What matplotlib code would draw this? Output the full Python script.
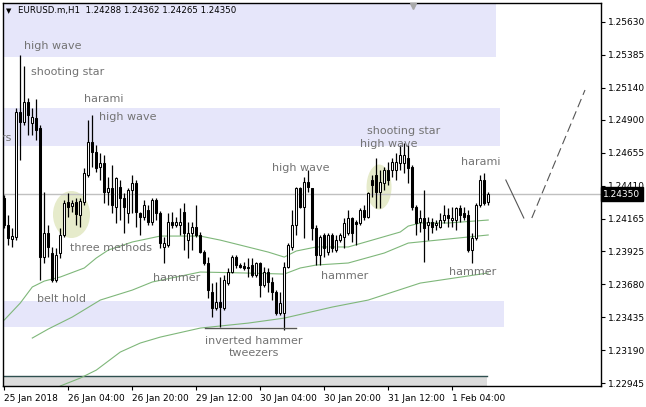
import matplotlib
matplotlib.use("Agg")
import matplotlib.pyplot as plt
from matplotlib.patches import Rectangle, Ellipse
import matplotlib.transforms as mtransforms

# ---------------- data (EURUSD H1 candles) ----------------
opens = [
    1.24320, 1.24120, 1.24016, 1.24031, 1.24959, 1.24885, 1.25033, 1.24877, 1.24914, 1.24840,
    1.23882, 1.24060, 1.23912, 1.23712, 1.23912, 1.24046, 1.24291, 1.24261, 1.24291, 1.24194,
    1.24291, 1.24491, 1.24736, 1.24662, 1.24550, 1.24580, 1.24365, 1.24395, 1.24253, 1.24402,
    1.24320, 1.24209, 1.24380, 1.24432, 1.24209, 1.24179, 1.24231, 1.24142, 1.24305, 1.24209,
    1.23957, 1.23971, 1.24142, 1.24120, 1.24120, 1.24216, 1.24008, 1.24060, 1.24105, 1.24046,
    1.23919, 1.23838, 1.23622, 1.23504, 1.23548, 1.23504, 1.23689, 1.23771, 1.23882, 1.23823,
    1.23815, 1.23808, 1.23823, 1.23749, 1.23838, 1.23674, 1.23771, 1.23697, 1.23622, 1.23467,
    1.23467, 1.23808, 1.23957, 1.24120, 1.24395, 1.24253, 1.24439, 1.24395, 1.24098, 1.23897,
    1.24046, 1.23919, 1.24046, 1.23934, 1.24008, 1.24031, 1.24060, 1.24172, 1.24142, 1.24135,
    1.24231, 1.24179, 1.24454, 1.24491, 1.24365, 1.24432, 1.24528, 1.24528, 1.24528, 1.24580,
    1.24580, 1.24617, 1.24550, 1.24253, 1.24142, 1.24172, 1.24120, 1.24142, 1.24120, 1.24105,
    1.24157, 1.24194, 1.24157, 1.24157, 1.24246, 1.24209, 1.24194, 1.23934, 1.24023, 1.24268,
    1.24454, 1.24288,
]
highs = [
    1.24343, 1.24194, 1.24098, 1.24989, 1.25382, 1.25300, 1.25063, 1.24989, 1.25055, 1.24862,
    1.24365, 1.24120, 1.23957, 1.23949, 1.24098, 1.24305, 1.24357, 1.24305, 1.24320, 1.24320,
    1.24543, 1.24899, 1.24937, 1.24714, 1.24654, 1.24640, 1.24476, 1.24565, 1.24476, 1.24454,
    1.24357, 1.24395, 1.24491, 1.24454, 1.24216, 1.24305, 1.24268, 1.24320, 1.24320, 1.24224,
    1.24031, 1.24209, 1.24216, 1.24179, 1.24246, 1.24283, 1.24142, 1.24142, 1.24268, 1.24068,
    1.23934, 1.23882, 1.23689, 1.23697, 1.23734, 1.23749, 1.23801, 1.23897, 1.23897, 1.23838,
    1.23845, 1.23875, 1.23875, 1.23845, 1.23845, 1.23808, 1.23801, 1.23734, 1.23637, 1.23622,
    1.23845, 1.23986, 1.24231, 1.24402, 1.24402, 1.24476, 1.24528, 1.24395, 1.24120, 1.24046,
    1.24060, 1.24060, 1.24060, 1.24046, 1.24060, 1.24172, 1.24231, 1.24179, 1.24157, 1.24246,
    1.24268, 1.24365, 1.24491, 1.24617, 1.24528, 1.24550, 1.24588, 1.24617, 1.24654, 1.24714,
    1.24729, 1.24714, 1.24565, 1.24268, 1.24231, 1.24380, 1.24179, 1.24172, 1.24157, 1.24209,
    1.24268, 1.24246, 1.24253, 1.24253, 1.24268, 1.24253, 1.24231, 1.24060, 1.24283, 1.24491,
    1.24506, 1.24362,
]
lows = [
    1.24098, 1.23971, 1.23957, 1.24008, 1.24602, 1.24862, 1.24788, 1.24788, 1.24751, 1.23712,
    1.23838, 1.23882, 1.23697, 1.23697, 1.23875, 1.24031, 1.24179, 1.24216, 1.24120, 1.24105,
    1.24268, 1.24476, 1.24550, 1.24513, 1.24454, 1.24283, 1.24268, 1.24209, 1.24135, 1.24157,
    1.24060, 1.24135, 1.24209, 1.24105, 1.24046, 1.24157, 1.24120, 1.24120, 1.24157, 1.23949,
    1.23838, 1.23957, 1.24098, 1.24105, 1.24046, 1.23934, 1.23875, 1.23934, 1.24031, 1.23912,
    1.23823, 1.23578, 1.23437, 1.23489, 1.23363, 1.23489, 1.23674, 1.23764, 1.23801, 1.23801,
    1.23786, 1.23734, 1.23734, 1.23734, 1.23585, 1.23660, 1.23622, 1.23563, 1.23452, 1.23452,
    1.23340, 1.23801, 1.23934, 1.24046, 1.24246, 1.24023, 1.24365, 1.24008, 1.23823, 1.23823,
    1.23882, 1.23897, 1.23919, 1.23919, 1.23994, 1.23949, 1.24046, 1.23994, 1.23971, 1.24120,
    1.24157, 1.24172, 1.24328, 1.24246, 1.24246, 1.24380, 1.24417, 1.24476, 1.24454, 1.24528,
    1.24506, 1.24432, 1.24231, 1.24046, 1.24068, 1.23845, 1.24008, 1.24060, 1.24083, 1.24098,
    1.24135, 1.24105, 1.24105, 1.24083, 1.24142, 1.24157, 1.23919, 1.23838, 1.24008, 1.24253,
    1.24268, 1.24265,
]
closes = [
    1.24120, 1.24023, 1.24038, 1.24959, 1.24885, 1.25033, 1.24937, 1.24922, 1.24825, 1.23882,
    1.24060, 1.23957, 1.23712, 1.23897, 1.24046, 1.24283, 1.24253, 1.24283, 1.24202, 1.24298,
    1.24506, 1.24736, 1.24662, 1.24543, 1.24580, 1.24365, 1.24395, 1.24268, 1.24469, 1.24320,
    1.24253, 1.24380, 1.24432, 1.24216, 1.24179, 1.24268, 1.24142, 1.24305, 1.24209, 1.23986,
    1.23986, 1.24142, 1.24120, 1.24142, 1.24142, 1.24060, 1.24060, 1.24105, 1.24046, 1.23919,
    1.23838, 1.23637, 1.23504, 1.23548, 1.23511, 1.23712, 1.23771, 1.23882, 1.23823, 1.23808,
    1.23801, 1.23801, 1.23749, 1.23838, 1.23674, 1.23771, 1.23697, 1.23622, 1.23467, 1.23541,
    1.23808, 1.23971, 1.24120, 1.24395, 1.24253, 1.24439, 1.24402, 1.24098, 1.23897, 1.24031,
    1.23949, 1.24046, 1.23949, 1.24008, 1.24046, 1.24135, 1.24172, 1.24060, 1.24127, 1.24231,
    1.24179, 1.24357, 1.24417, 1.24365, 1.24439, 1.24528, 1.24454, 1.24588, 1.24588, 1.24640,
    1.24640, 1.24543, 1.24253, 1.24135, 1.24172, 1.24098, 1.24142, 1.24105, 1.24135, 1.24157,
    1.24194, 1.24172, 1.24172, 1.24246, 1.24194, 1.24179, 1.23934, 1.24023, 1.24268, 1.24454,
    1.24283, 1.24350,
]

# moving averages (bar index, price)
ma1_idx = [0, 4, 7, 10, 14, 20, 23, 26, 32, 39, 49, 54, 59, 66, 70, 73, 78, 86, 92, 99, 101, 104, 111, 121]
ma1_val = [1.23415, 1.23541, 1.23660, 1.23704, 1.23734, 1.23801, 1.23875, 1.23934, 1.23994, 1.24038,
           1.24038, 1.24008, 1.23971, 1.23919, 1.23882, 1.23927, 1.23957, 1.23957, 1.24008, 1.24068,
           1.24112, 1.24135, 1.24135, 1.24157]
ma2_idx = [7, 11, 17, 24, 32, 37, 49, 60, 70, 74, 78, 86, 95, 101, 121]
ma2_val = [1.23281, 1.23348, 1.23437, 1.23563, 1.23637, 1.23697, 1.23771, 1.23764, 1.23756, 1.23801,
           1.23823, 1.23838, 1.23912, 1.23986, 1.24046]
ma3_idx = [14, 19, 23, 29, 34, 39, 49, 61, 70, 82, 91, 104, 121]
ma3_val = [1.22925, 1.22984, 1.23043, 1.23177, 1.23244, 1.23288, 1.23355, 1.23392, 1.23429, 1.23511,
           1.23563, 1.23689, 1.23764]

# zones (price ranges)
zone_low = [1.25367, 1.24706, 1.23363]
zone_high = [1.25900, 1.24989, 1.23556]
zone_end = [123.0, 124.0, 125.0]

ytick_vals = [1.25630, 1.25385, 1.25140, 1.24900, 1.24655, 1.24410,
              1.24165, 1.23925, 1.23680, 1.23435, 1.23190, 1.22945]
xtick_pos = [0, 16, 32, 48, 64, 80, 96, 112]
xtick_labels = ["25 Jan 2018", "26 Jan 04:00", "26 Jan 20:00", "29 Jan 12:00",
                "30 Jan 04:00", "30 Jan 20:00", "31 Jan 12:00", "1 Feb 04:00"]

labels = [
    ("high wave", 4.93, 1.25449), ("shooting star", 6.68, 1.25256),
    ("harami", 19.9, 1.25055), ("high wave", 23.7, 1.24922),
    ("three methods", 16.4, 1.23949), ("belt hold", 8.2, 1.23570),
    ("hammer", 37.2, 1.23726), ("inverted hammer", 50.2, 1.23259),
    ("tweezers", 56.2, 1.23170), ("high wave", 66.9, 1.24543),
    ("hammer", 79.2, 1.23741), ("shooting star", 90.7, 1.24818),
    ("high wave", 88.9, 1.24721), ("harami", 114.2, 1.24588),
    ("hammer", 111.2, 1.23771),
]

last_price = 1.24350

# ---------------- figure ----------------
W, H = 646, 407
fig = plt.figure(figsize=(W / 100, H / 100), dpi=100)
fig.patch.set_facecolor("white")
ax = fig.add_axes([3 / W, 1 - 386 / H, 598 / W, 383 / H])
ax.set_xlim(-0.325, 149.2)
ax.set_ylim(1.22925, 1.25768)

lav = "#e6e6fa"
for lo, hi, xe in zip(zone_low, zone_high, zone_end):
    ax.add_patch(Rectangle((-5, lo), xe + 5, hi - lo, facecolor=lav, edgecolor="none", zorder=0.5))

# bottom gray strip
ax.add_patch(Rectangle((-5, 1.22800), 125.8, 1.23000 - 1.22800, facecolor="#dcdcdc",
                       edgecolor="none", zorder=0.6))
ax.plot([-5, 120.8], [1.23000, 1.23000], color="#2f4f4f", lw=1.0, zorder=0.7)

# circles
ax.add_patch(Ellipse((16.8, 1.24198), 9.25, 0.00349, facecolor="#e6ebcb", edgecolor="none", zorder=0.8))
ax.add_patch(Ellipse((93.7, 1.24402), 6.25, 0.00334, facecolor="#e6ebcb", edgecolor="none", zorder=0.8))

# last price line
ax.axhline(last_price, color="#c0c0c0", lw=1.0, zorder=1)

# moving averages
for xi, yv in ((ma1_idx, ma1_val), (ma2_idx, ma2_val), (ma3_idx, ma3_val)):
    ax.plot(xi, yv, color="#7fb77a", lw=0.8, zorder=2)

# candles
idx = list(range(len(opens)))
ax.vlines(idx, lows, highs, color="black", lw=0.9, zorder=3)
for i, (o, c) in enumerate(zip(opens, closes)):
    bottom = min(o, c)
    h = max(abs(c - o), 0.00003)
    fc = "white" if c >= o else "black"
    ax.add_patch(Rectangle((i - 0.3, bottom), 0.6, h, facecolor=fc, edgecolor="black",
                           lw=0.75, zorder=4))

# tweezers line
ax.plot([50.2, 72.9], [1.23355, 1.23355], color="#555555", lw=1.0, zorder=3.5)

# projection
ax.plot([125.4, 129.9], [1.24454, 1.24172], color="#555555", lw=0.8, zorder=3)
ax.plot([131.9, 145.2], [1.24172, 1.25122], color="#555555", lw=0.8, zorder=3,
        dashes=(8, 4))

# chart shift marker
ax.plot([102.2], [1.25745], marker="v", color="#a9a9a9", markersize=5, zorder=5, clip_on=False)

# pattern labels
for txt, xx, yy in labels:
    ax.text(xx, yy, txt, fontsize=8, color="#737373", ha="left", va="center", zorder=6, clip_on=True)
ax.text(1.9, 1.24766, "tweezers", fontsize=8, color="#737373", ha="right", va="center",
        zorder=6, clip_on=True)

# axes styling
for s in ax.spines.values():
    s.set_color("black")
    s.set_linewidth(1.0)
ax.yaxis.tick_right()
ax.set_yticks(ytick_vals)
ax.set_yticklabels([f"{v:.5f}" for v in ytick_vals])
ax.set_xticks(xtick_pos)
ax.set_xticklabels(xtick_labels, ha="left")
ax.tick_params(axis="both", direction="out", length=3, width=0.8, labelsize=6.5, pad=2,
               colors="black")
ax.tick_params(axis="x", pad=3)

# price box
trans = mtransforms.blended_transform_factory(ax.transAxes, ax.transData)
ax.text(1.004, last_price, f"{last_price:.5f}", transform=trans, fontsize=6.5, color="white",
        ha="left", va="center", zorder=10, clip_on=False,
        bbox=dict(boxstyle="square,pad=0.25", facecolor="black", edgecolor="black"))

# title
fig.text(6 / W, 1 - 11 / H, "▼", fontsize=5, color="black", va="center", ha="left")
fig.text(18 / W, 1 - 11 / H, "EURUSD.m,H1  1.24288 1.24362 1.24265 1.24350", fontsize=6.2,
         color="black", va="center", ha="left")

fig.savefig("out.png", dpi=100, facecolor="white")
